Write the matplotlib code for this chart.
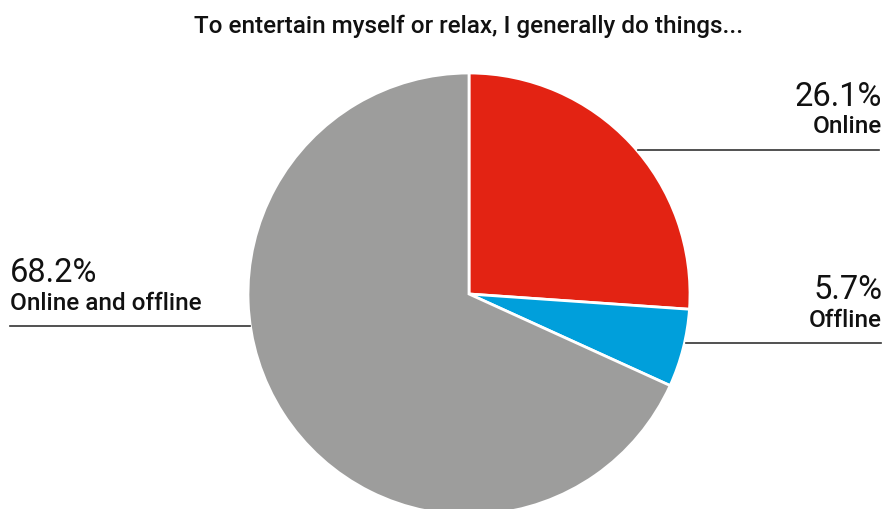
import matplotlib.pyplot as plt
from matplotlib.lines import Line2D

plt.rcParams['font.family'] = ['Roboto', 'DejaVu Sans']

# survey answers
labels = ['Online', 'Offline', 'Online and offline']
shares = [26.1, 5.7, 68.2]
colors = ['#E32313', '#009FDB', '#9D9D9C']

W, H = 886, 510
fig = plt.figure(figsize=(W / 100, H / 100), dpi=100)

# pie centre and radius in pixels
cx, cy, r = 469, 295, 221
ax = fig.add_axes([(cx - r) / W, (H - cy - r) / H, 2 * r / W, 2 * r / H])
ax.pie(shares, colors=colors, startangle=90, counterclock=False,
       wedgeprops=dict(edgecolor='white', linewidth=2), radius=1)
ax.set_xlim(-1, 1)
ax.set_ylim(-1, 1)
ax.set_aspect('equal')
ax.axis('off')

def px(x, y):
    return x / W, 1 - y / H

fig.text(*px(469, 33), 'To entertain myself or relax, I generally do things...',
         ha='center', va='baseline', fontsize=17.5, fontweight='medium',
         color='#111111')

# label layout: (value anchor, name anchor, alignment, leader line)
layout = {
    'Online': ((882, 106), (882, 133), 'right', ((638, 879), (151, 151))),
    'Offline': ((882, 299), (882, 327), 'right', ((686, 881), (344, 344))),
    'Online and offline': ((10, 282), (10, 310), 'left', ((10, 250), (327, 327))),
}

for name, val in zip(labels, shares):
    (vx, vy), (nx, ny), ha, (lx, ly) = layout[name]
    fig.text(*px(vx, vy), f'{val}%', ha=ha, va='baseline', fontsize=23.5,
             color='#111111')
    fig.text(*px(nx, ny), name, ha=ha, va='baseline', fontsize=17.5,
             fontweight='medium', color='#111111')
    fig.add_artist(Line2D([x / W for x in lx], [1 - y / H for y in ly],
                          color='#333333', linewidth=1.2))

fig.savefig('out.png', dpi=100)
